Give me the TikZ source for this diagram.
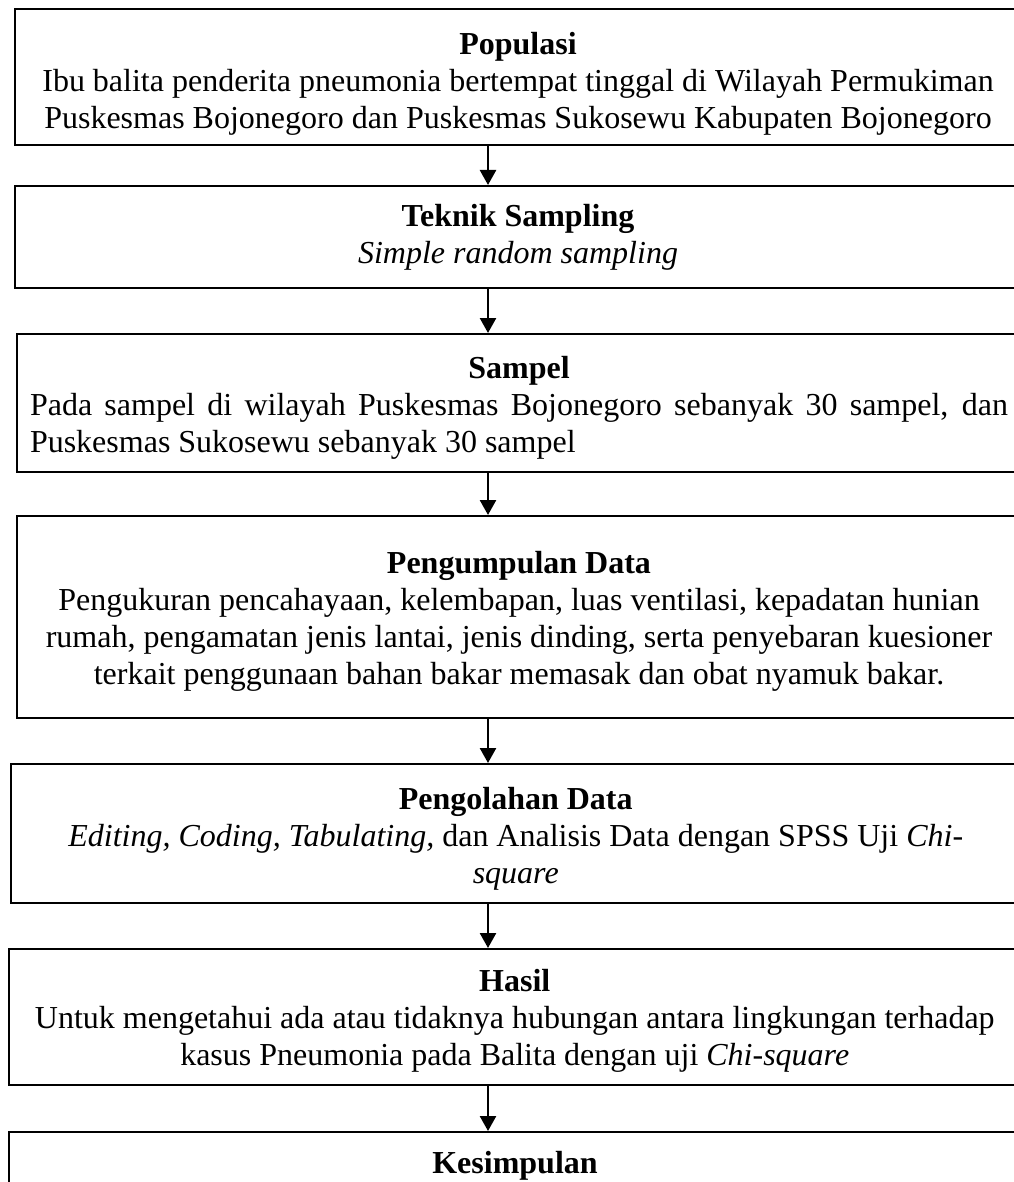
\documentclass[tikz,border=0pt]{standalone}
\usepackage{fontspec}
\setmainfont{Liberation Serif}
\usepackage{tikz}
\usetikzlibrary{arrows.meta}

\begin{document}
\begin{tikzpicture}[x=0.5pt,y=0.5pt,yscale=-1,
  box/.style={draw,line width=1pt,anchor=north west,inner sep=0pt,align=center,
    font=\fontsize{16}{18.5}\selectfont},
  arrowline/.style={line width=1.25pt,-{Triangle[width=8pt,length=7.5pt]}}]
\useasboundingbox (0,0) rectangle (1013,1182);

% Text Node
\node [box,minimum width=503pt,minimum height=68pt] (populasi) at (14,8)
  {\rule{0pt}{18pt}\textbf{Populasi}\\
   Ibu balita penderita pneumonia bertempat tinggal di Wilayah Permukiman\\
   Puskesmas Bojonegoro dan Puskesmas Sukosewu Kabupaten Bojonegoro};
% Text Node
\node [box,minimum width=503pt,minimum height=51pt] (teknik) at (14,185)
  {\textbf{Teknik Sampling}\\
   \textit{Simple random sampling}};
% Text Node
\node [box,minimum width=502pt,minimum height=69pt] (sampel) at (16,333)
  {\rule{0pt}{16pt}\textbf{Sampel}\\
   \makebox[489pt][s]{Pada sampel di wilayah Puskesmas Bojonegoro sebanyak 30 sampel, dan}\\
   \makebox[489pt][l]{Puskesmas Sukosewu sebanyak 30 sampel}};
% Text Node
\node [box,minimum width=502pt,minimum height=101pt] (pengumpulan) at (16,515)
  {\rule{0pt}{15pt}\textbf{Pengumpulan Data}\\
   Pengukuran pencahayaan, kelembapan, luas ventilasi, kepadatan hunian\\
   rumah, pengamatan jenis lantai, jenis dinding, serta penyebaran kuesioner\\
   terkait penggunaan bahan bakar memasak dan obat nyamuk bakar.};
% Text Node
\node [box,minimum width=505.25pt,minimum height=69.5pt] (pengolahan) at (9.5,763)
  {\rule{0pt}{16pt}\textbf{Pengolahan Data}\\
   \textit{Editing, Coding, Tabulating,} dan Analisis Data dengan SPSS Uji \textit{Chi-}\\
   \textit{square}};
% Text Node
\node [box,minimum width=506.25pt,minimum height=68pt] (hasil) at (7.5,948)
  {\rule{0pt}{15pt}\textbf{Hasil}\\
   Untuk mengetahui ada atau tidaknya hubungan antara lingkungan terhadap\\
   kasus Pneumonia pada Balita dengan uji \textit{Chi-square}};
% Text Node
\node [box,minimum width=506pt,minimum height=33.5pt] (kesimpulan) at (8,1131)
  {\textbf{Kesimpulan}};

%Straight Lines
\coordinate (ax) at (488,0);
\draw [arrowline] (populasi.south -| ax) -- (teknik.north -| ax);
%Straight Lines
\draw [arrowline] (teknik.south -| ax) -- (sampel.north -| ax);
%Straight Lines
\draw [arrowline] (sampel.south -| ax) -- (pengumpulan.north -| ax);
%Straight Lines
\draw [arrowline] (pengumpulan.south -| ax) -- (pengolahan.north -| ax);
%Straight Lines
\draw [arrowline] (pengolahan.south -| ax) -- (hasil.north -| ax);
%Straight Lines
\draw [arrowline] (hasil.south -| ax) -- (kesimpulan.north -| ax);

\end{tikzpicture}
\end{document}
